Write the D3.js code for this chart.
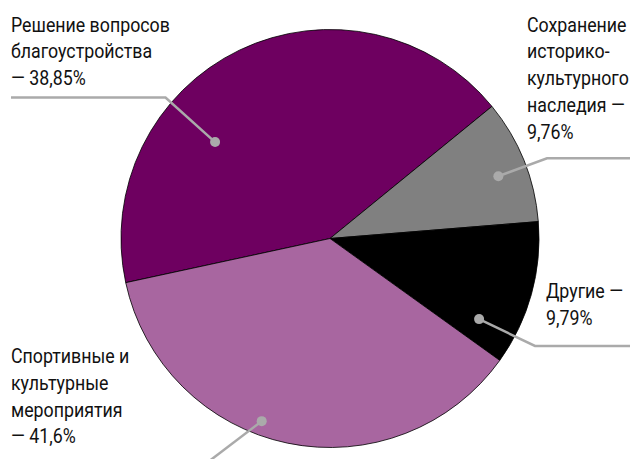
<!DOCTYPE html>
<html>
<head>
<meta charset="utf-8">
<script src="https://cdn.jsdelivr.net/npm/d3@7"></script>
<style>
 body { margin: 0; background: #fff; }
 text { font-family: "Roboto", "Liberation Sans", sans-serif; font-size: 21px; fill: #111; }
</style>
</head>
<body>
<svg width="630" height="459"></svg>
<script>
var categories = ["Решение вопросов благоустройства", "Сохранение историко-культурного наследия", "Другие", "Спортивные и культурные мероприятия"];
var sliceValues = [42.5, 9.6, 11.2, 36.7];
var labelLines = [
  ["Решение вопросов", "благоустройства", "— 38,85%"],
  ["Сохранение", "историко-", "культурного", "наследия —", "9,76%"],
  ["Другие —", "9,79%"],
  ["Спортивные и", "культурные", "мероприятия", "— 41,6%"]
];
var colors = ["#6e0060", "#808080", "#000000", "#a866a0"];

var svg = d3.select("svg"),
  width = +svg.attr("width"),
  height = +svg.attr("height");

var cx = 330, cy = 238.5, radius = 209;

var pie = d3.pie()
  .sort(null)
  .value(function (d) { return d; })
  .startAngle(-102.2 * Math.PI / 180)
  .endAngle((360 - 102.2) * Math.PI / 180);

var arc = d3.arc().innerRadius(0).outerRadius(radius);

var g = svg.append("g").attr("transform", "translate(" + cx + "," + cy + ")");

g.selectAll("path")
  .data(pie(sliceValues))
  .enter().append("path")
  .attr("d", arc)
  .attr("fill", function (d, i) { return colors[i]; })
  .attr("stroke", "#000")
  .attr("stroke-width", 0.8)
  .attr("stroke-linejoin", "round");

// condensed look: measure one line and squeeze all labels by the same factor
var probe = svg.append("text").text("Решение вопросов");
var sx = 159 / probe.node().getComputedTextLength();
probe.remove();

// Leader layout: dot polar position (deg, r), elbow and end points, text anchor
var leaders = [
  { dot: [310, 150], pts: [[165.5, 97.5], [11, 97.5]], tx: 11, ty: 31.5 },
  { dot: [69.7, 179.5], pts: [[547, 158.3], [630, 158.3]], tx: 527, ty: 31.5 },
  { dot: [118.4, 169.5], pts: [[535, 346], [630, 346]], tx: 546, ty: 298 },
  { dot: [200.5, 195], pts: [[208, 462]], tx: 11, ty: 363 }
];

leaders.forEach(function (l, i) {
  var p = d3.pointRadial(l.dot[0] * Math.PI / 180, l.dot[1]);
  var dx = cx + p[0], dy = cy + p[1];
  var line = [[dx, dy]].concat(l.pts);
  svg.append("path")
    .attr("d", d3.line()(line))
    .attr("fill", "none")
    .attr("stroke", "#aaaaaa")
    .attr("stroke-width", 2.5);
  svg.append("circle")
    .attr("cx", dx).attr("cy", dy).attr("r", 5)
    .attr("fill", "#aaaaaa");

  var t = svg.append("text")
    .attr("transform", "translate(" + l.tx + "," + l.ty + ") scale(" + sx + ",1)");
  labelLines[i].forEach(function (s, j) {
    t.append("tspan").attr("x", 0).attr("dy", j === 0 ? 0 : 26.8).text(s);
  });
});
</script>
</body>
</html>
